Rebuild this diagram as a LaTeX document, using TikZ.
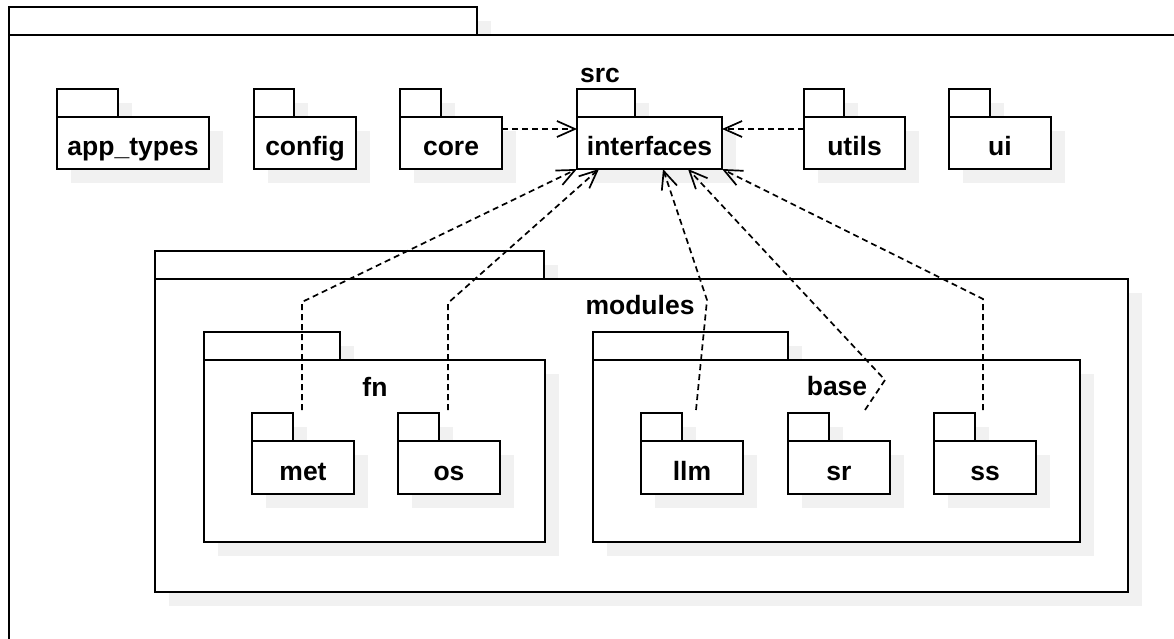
\documentclass[tikz,border=0pt]{standalone}
\usepackage{fontspec}
\setmainfont{Liberation Sans}
\usetikzlibrary{arrows.meta,calc}
\definecolor{shadowgray}{HTML}{F1F1F1}
\tikzset{
  pkgtab/.style={draw=black, fill=white, line width=2pt, inner sep=0pt, outer sep=0pt, anchor=north west},
  pkgbody/.style={draw=black, fill=white, line width=2pt, inner sep=0pt, outer sep=0pt, anchor=north west,
    font=\fontsize{26.5}{30}\selectfont\bfseries, text height=25pt, text depth=0pt},
  pkgtitle/.style={font=\fontsize{26.5}{30}\selectfont\bfseries, inner sep=0pt, text height=19pt, text depth=0pt},
  dep/.style={line width=1.7pt, dash pattern=on 6pt off 4pt, -{Straight Barb[length=18pt,width=16pt]}}
}
\newcommand\umlpkg[7]{%
  \fill[shadowgray] (#2+14,#3+14) rectangle ++(#4,28);
  \fill[shadowgray] (#2+14,#3+42) rectangle ++(#5,#6);
  \node[pkgtab, minimum width=#4, minimum height=28] (#1tab) at (#2,#3) {};
  \node[pkgbody, minimum width=#5, minimum height=#6] (#1) at (#2,#3+28) {#7};
}
\begin{document}
\begin{tikzpicture}[x=1pt,y=-1pt]
\useasboundingbox (0,0) rectangle (1174,639);
\clip (0,0) rectangle (1174,639);
\fill[white] (0,0) rectangle (1174,639);

% outer package src
\umlpkg{src}{8.5}{7.5}{468}{1400}{900}{}
\node[pkgtitle] (srclabel) at (600,73) {src};

% top row
\umlpkg{apptypes}{57}{89}{61}{152}{52}{app\_types}
\umlpkg{config}{254}{89}{40}{102}{52}{config}
\umlpkg{core}{400}{89}{41}{102}{52}{core}
\umlpkg{interfaces}{577}{89}{58}{145}{52}{interfaces}
\umlpkg{utils}{804}{89}{40}{101}{52}{utils}
\umlpkg{ui}{949}{89}{41}{102}{52}{ui}

% modules
\umlpkg{modules}{155}{251}{389}{973}{313}{}
\node[pkgtitle] (moduleslabel) at (640,305) {modules};

% fn
\umlpkg{fn}{204}{332}{136}{341}{182}{}
\node[pkgtitle] (fnlabel) at (375,387) {fn};
\umlpkg{met}{252}{413}{41}{102}{53}{met}
\umlpkg{os}{398}{413}{41}{102}{53}{os}

% base
\umlpkg{base}{593}{332}{195}{487}{182}{}
\node[pkgtitle] (baselabel) at (837,386) {base};
\umlpkg{llm}{641}{413}{41}{102}{53}{llm}
\umlpkg{sr}{788}{413}{41}{102}{53}{sr}
\umlpkg{ss}{934}{413}{41}{102}{53}{ss}

% connector points
\coordinate (metS) at (302,410);
\coordinate (metB) at (302,302);
\coordinate (osS) at (448,410);
\coordinate (osB) at (448,303);
\coordinate (llmS) at (696,410);
\coordinate (llmB) at (707,300);
\coordinate (srS) at (865,410);
\coordinate (srB) at (885,380);
\coordinate (ssS) at (983,410);
\coordinate (ssB) at (983,299);

\draw[dep] ($(core.north east)+(0,12)$) -- ($(interfaces.north west)+(0,12)$);
\draw[dep] ($(utils.north west)+(0,12)$) -- ($(interfaces.north east)+(0,12)$);
\draw[dep] (metS) -- (metB) -- (interfaces.south west);
\draw[dep] (osS) -- (osB) -- ($(interfaces.south west)+(22,0)$);
\draw[dep] (llmS) -- (llmB) -- ($(interfaces.south west)+(86,0)$);
\draw[dep] (srS) -- (srB) -- ($(interfaces.south west)+(111,0)$);
\draw[dep] (ssS) -- (ssB) -- (interfaces.south east);
\end{tikzpicture}
\end{document}
